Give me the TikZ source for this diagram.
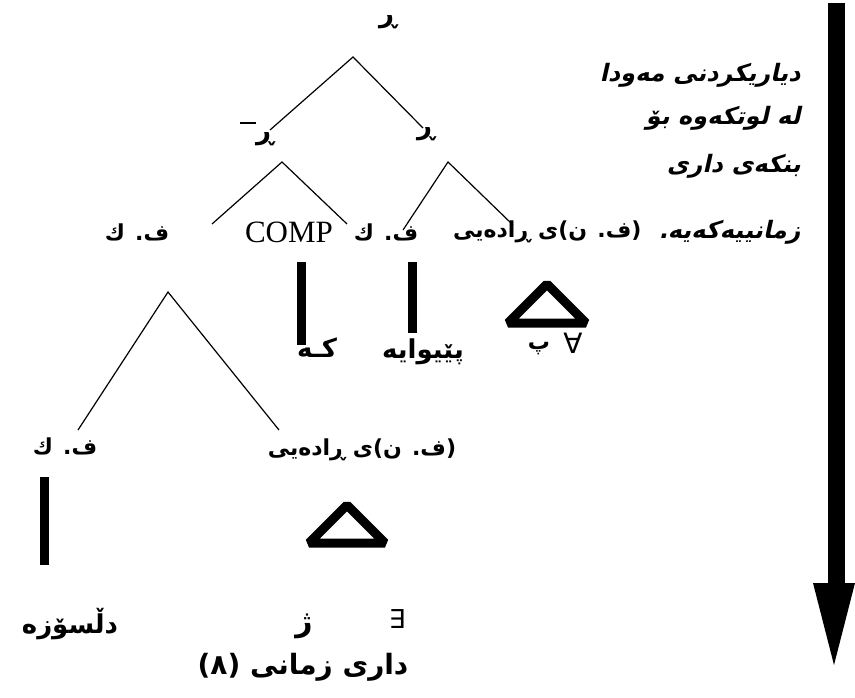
\documentclass[tikz,border=0pt]{standalone}
\usepackage{fontspec}
\setmainfont{Liberation Serif}
\newfontfamily\ar[Script=Arabic]{DejaVu Sans}
\newfontfamily\arit[Script=Arabic,FakeSlant=0.22]{DejaVu Sans}
\newfontfamily\symf{DejaVu Sans}
\TeXXeTstate=1
\newcommand{\AR}[1]{{\ar\bfseries\beginR #1\endR}}
\newcommand{\ARI}[1]{{\arit\bfseries\beginR #1\endR}}
\newcommand{\fs}[1]{\fontsize{#1}{#1}\selectfont}
\begin{document}
\begin{tikzpicture}[x=1pt,y=-1pt,
  lab/.style={inner sep=0pt,font=\fs{22}},
  bigl/.style={inner sep=0pt,font=\fs{26}},
  branch/.style={line width=1.2pt},
  barline/.style={line width=9pt},
  tri/.style={line width=9pt,line join=bevel},
  para/.style={inner sep=0pt,anchor=east,font=\fs{24}}]
\useasboundingbox (0,0) rectangle (855,698);

% top
\node[bigl] (top) at (388,22) {\AR{ڕ}};
\coordinate (a0) at (353,57);
\coordinate (a0l) at (270,130);
\coordinate (a0r) at (423,128);
\draw[branch] (a0l) -- (a0) -- (a0r);

\node[bigl] (rbar) at (257,134) {\rule[0.62em]{16pt}{1.6pt}\AR{ڕ}};
\node[bigl] (rr) at (426,134) {\AR{ڕ}};

% left subtree of rbar
\coordinate (a1) at (282,162);
\coordinate (a1l) at (212,224);
\coordinate (a1r) at (347,224);
\draw[branch] (a1l) -- (a1) -- (a1r);

% right subtree of rr
\coordinate (a2) at (448,162);
\coordinate (a2l) at (403,230);
\coordinate (a2r) at (513,225);
\draw[branch] (a2l) -- (a2) -- (a2r);

% level 3
\node[lab] (fk1) at (137,232) {\AR{ف. ك}};
\node[inner sep=0pt,font=\fs{31}] (comp) at (289,232) {COMP};
\node[lab] (fk2) at (386,232) {\AR{ف. ك}};
\node[lab,anchor=west] (dp1) at (453,232) {\AR{(ف. ن)ی ڕادەیی}};

% right paragraph
\node[para] (p1) at (801,75) {\ARI{دیاریکردنی مەودا}};
\node[para] (p2) at (801,118) {\ARI{لە لوتکەوە بۆ}};
\node[para] (p3) at (801,166) {\ARI{بنکەی داری}};
\node[para] (p4) at (801,232) {\ARI{زمانییەکەیە.}};

% bars and terminals
\coordinate (b1t) at (301.5,262);
\coordinate (b1b) at (301.5,345);
\draw[barline] (b1t) -- (b1b);
\node[bigl] (ke) at (317,348) {\AR{کـە}};

\coordinate (b2t) at (412,262);
\coordinate (b2b) at (412,333);
\draw[barline] (b2t) -- (b2b);
\node[bigl] (peyewaye) at (423,352) {\AR{پێیوایە}};

\coordinate (t1l) at (508,323);
\coordinate (t1a) at (547,284);
\coordinate (t1r) at (586,323);
\draw[tri] (t1l) -- (t1a) -- (t1r) -- cycle;
\node[lab] (pe) at (539,349) {\AR{پ}};
\node[inner sep=0pt,font=\fs{28}\symf] (forall) at (573,343) {∀};

% lower-left subtree
\coordinate (a3) at (168,292);
\coordinate (a3l) at (78,430);
\coordinate (a3r) at (279,430);
\draw[branch] (a3l) -- (a3) -- (a3r);

\node[lab] (fk3) at (65,446) {\AR{ف. ك}};
\node[lab] (dp2) at (362,450) {\AR{(ف. ن)ی ڕادەیی}};

\coordinate (b3t) at (44,477);
\coordinate (b3b) at (44,565);
\draw[barline] (b3t) -- (b3b);

\coordinate (t2l) at (309,543);
\coordinate (t2a) at (347,505);
\coordinate (t2r) at (385,543);
\draw[tri] (t2l) -- (t2a) -- (t2r) -- cycle;

\node[bigl] (dlsoz) at (70,624) {\AR{دڵسۆزە}};
\node[inner sep=0pt,font=\fs{30}] (zhe) at (304,626) {\AR{ژ}};
\node[inner sep=0pt,font=\fs{26}\symf] (exists) at (397,619) {∃};

\node[inner sep=0pt,font=\fs{28}] (caption) at (303,667) {\AR{داری زمانی (٨)}};

% big arrow
\fill (828,3) rectangle (845,584);
\fill (813,583) -- (855,583) -- (834,665) -- cycle;
\end{tikzpicture}
\end{document}
